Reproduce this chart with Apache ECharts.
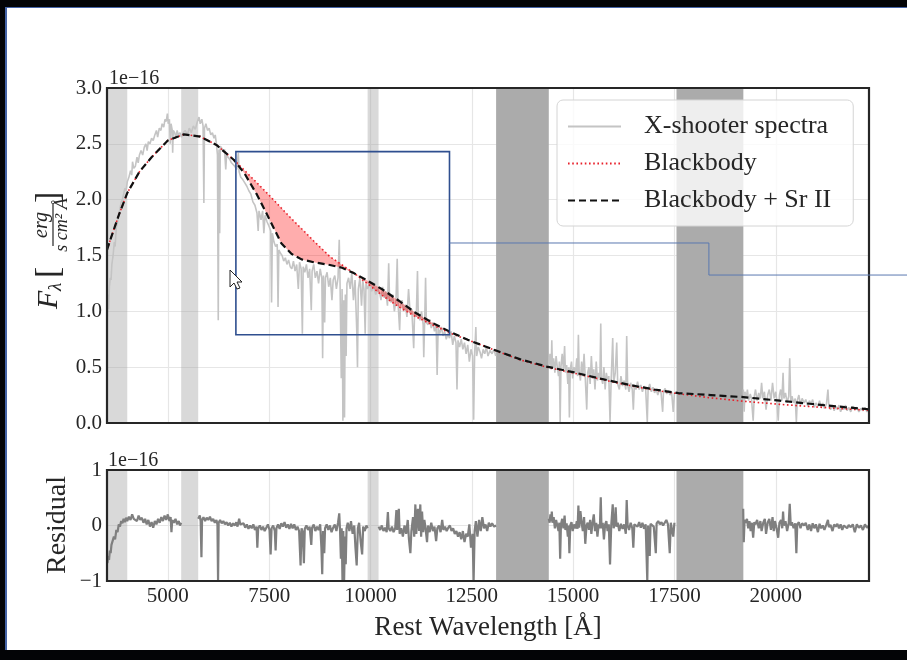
<!DOCTYPE html>
<html><head><meta charset="utf-8">
<script src="https://cdn.jsdelivr.net/npm/echarts@6/dist/echarts.min.js"></script>
<style>
html,body{margin:0;padding:0;background:#030406;width:907px;height:660px;overflow:hidden}
#bg{position:absolute;left:5px;top:7px;width:902px;height:643px;background:#fff;border-left:2px solid #4564a6;border-top:1px solid #4564a6;box-sizing:border-box}
#chart{position:absolute;left:0;top:0;width:907px;height:660px}
</style></head><body><div id="bg"></div><div id="chart"></div>
<script>
// ---------------- data ----------------
const XMIN = 3500, XMAX = 22300;
const xTicks = [5000, 7500, 10000, 12500, 15000, 17500, 20000];
const fluxTicks = [0, 0.5, 1.0, 1.5, 2.0, 2.5, 3.0];
const residualTicks = [-1, 0, 1];
const lightBands = [[3500, 4000], [5330, 5750], [9930, 10200]];
const darkBands = [[13100, 14400], [17550, 19200]];

const modelWave = [3500,3600,3800,4000,4300,4600,5000,5400,5800,6200,6633,6900,7200,7500,7800,8050,8300,8600,9000,9300,9600,9900,10300,10700,11100,11550,11970,12400,12800,13200,13700,14350,15000,15700,16400,17000,17600,18400,19200,20100,20900,21700,22300];
const blackbodySr = [1.55,1.66,1.87,2.06,2.25,2.38,2.53,2.585,2.565,2.49,2.355,2.23,2.045,1.83,1.61,1.515,1.465,1.44,1.415,1.39,1.34,1.28,1.195,1.095,0.99,0.893,0.815,0.745,0.69,0.635,0.57,0.505,0.455,0.395,0.34,0.30,0.268,0.25,0.232,0.20,0.17,0.142,0.123];
const blackbody = [1.55,1.66,1.87,2.06,2.25,2.38,2.53,2.585,2.565,2.49,2.355,2.26,2.15,2.04,1.925,1.83,1.74,1.63,1.49,1.415,1.34,1.255,1.14,1.04,0.955,0.875,0.805,0.745,0.69,0.632,0.565,0.50,0.448,0.39,0.335,0.295,0.262,0.225,0.195,0.167,0.146,0.126,0.115];
const FILL_FROM = 6633, FILL_TO = 11970;

const spectrumA = [[3510,0.95],[3525,1.15],[3540,1.02],[3560,1.22],[3580,1.3],[3600,1.28],[3620,1.42],[3650,1.5],[3680,1.62],[3700,1.58],[3730,1.75],[3760,1.8],[3790,1.86],[3820,1.92],[3850,1.98],[3880,2.0],[3910,2.05],[3940,2.1],[3970,2.08],[4000,2.16],[4040,2.2],[4080,2.26],[4110,2.22],[4130,2.34],[4160,2.28],[4200,2.3],[4240,2.38],[4270,2.33],[4300,2.4],[4340,2.44],[4380,2.4],[4420,2.47],[4460,2.5],[4490,2.44],[4520,2.52],[4560,2.5],[4600,2.55],[4640,2.53],[4680,2.58],[4720,2.62],[4750,2.56],[4790,2.64],[4830,2.62],[4860,2.68],[4900,2.65],[4930,2.72],[4960,2.7],[4990,2.77],[5010,2.68],[5040,2.72],[5060,2.5],[5080,2.68],[5110,2.62],[5120,2.42],[5135,2.62],[5170,2.6],[5200,2.55],[5230,2.62],[5260,2.58],[5300,2.6],[5340,2.56],[5380,2.6],[5430,2.62],[5480,2.58],[5530,2.64],[5580,2.6],[5630,2.66],[5680,2.63],[5730,2.7],[5770,2.74],[5800,2.68],[5840,2.72],[5870,2.66],[5890,1.97],[5905,2.64],[5940,2.68],[5980,2.62],[6020,2.64],[6060,2.58],[6100,2.6],[6140,2.55],[6170,2.58],[6200,2.5],[6225,2.4],[6245,0.92],[6262,2.45],[6280,1.7],[6295,2.48],[6330,2.46],[6370,2.43],[6400,2.45],[6430,2.27],[6450,2.4],[6490,2.38],[6530,2.36],[6570,2.33],[6610,2.32],[6650,2.3],[6700,2.27],[6740,2.42],[6760,2.25],[6800,2.2],[6850,2.18],[6900,2.15],[6950,2.12],[7000,2.08],[7050,2.05],[7100,1.98],[7150,1.95],[7200,1.88],[7230,1.72],[7250,1.9],[7300,1.82],[7340,1.9],[7370,1.7],[7400,1.86],[7450,1.8],[7500,1.76],[7540,1.72],[7560,1.08],[7580,1.7],[7620,1.62],[7660,1.58],[7700,1.6],[7720,1.04],[7740,1.55],[7780,1.52],[7820,1.5],[7860,1.45],[7900,1.48],[7940,1.42],[7980,1.46],[8020,1.4],[8060,1.38],[8100,1.45],[8140,1.36],[8180,1.42],[8220,1.2],[8250,1.44],[8290,1.38],[8320,0.8],[8340,1.4],[8380,1.35],[8420,1.42],[8460,1.3],[8500,1.38],[8540,1.01],[8560,1.36],[8600,1.42],[8640,1.3],[8680,1.36],[8720,1.25],[8760,1.38],[8800,1.3],[8820,0.58],[8840,1.32],[8870,0.9],[8890,1.3],[8930,1.35],[8970,1.22],[9010,1.3],[9050,1.1],[9080,1.28],[9120,1.32],[9160,1.2],[9200,1.3],[9230,1.64],[9250,1.25],[9280,0.4],[9300,1.2],[9320,0.02],[9340,1.1],[9360,0.05],[9380,1.15],[9400,0.6],[9420,1.25],[9460,1.3],[9500,1.2],[9540,1.35],[9580,1.1],[9620,1.28],[9660,0.85],[9680,0.5],[9700,1.2],[9740,1.3],[9780,1.05],[9810,1.28],[9840,1.2],[9870,0.8],[9890,1.25],[9930,1.2],[9980,1.25],[10030,1.18],[10080,1.22],[10130,1.15],[10180,1.2],[10230,1.16],[10260,1.1],[10300,1.22],[10340,1.12],[10380,1.18],[10420,1.05],[10450,1.43],[10470,1.12],[10510,1.08],[10550,1.15],[10590,1.0],[10630,1.1],[10660,1.47],[10680,1.08],[10720,0.83],[10740,1.05],[10780,1.1],[10820,1.0],[10860,1.06],[10900,0.95],[10940,1.2],[10980,0.98],[11020,1.02],[11067,0.67],[11090,1.0],[11130,0.95],[11160,1.36],[11180,0.97],[11220,0.92],[11260,1.0],[11300,0.88],[11315,0.59],[11340,0.95],[11360,1.3],[11380,0.9],[11420,0.88],[11460,0.93],[11500,0.85],[11540,0.9],[11580,0.82],[11620,0.88],[11645,0.43],[11670,0.85],[11710,0.8],[11750,0.86],[11790,0.78],[11830,0.82],[11870,0.75],[11910,0.8],[11950,0.76],[11990,0.82],[12030,0.7],[12070,0.78],[12110,0.72],[12135,0.3],[12160,0.74],[12200,0.68],[12240,0.75],[12280,0.66],[12320,0.72],[12360,0.62],[12400,0.7],[12440,0.55],[12480,0.66],[12520,0.6],[12546,0.03],[12570,0.62],[12600,0.86],[12620,0.6],[12660,0.68],[12700,0.64],[12740,0.58],[12780,0.66],[12820,0.62],[12860,0.68],[12900,0.6],[12950,0.65],[13000,0.62],[13050,0.66],[13090,0.6]];
const spectrumB = [[14400,0.5],[14430,0.62],[14460,0.48],[14474,0.74],[14490,0.5],[14520,0.58],[14550,0.45],[14580,0.6],[14610,0.5],[14640,0.42],[14660,0.55],[14680,0.01],[14700,0.5],[14730,0.62],[14760,0.48],[14790,0.69],[14810,0.45],[14840,0.52],[14870,0.35],[14890,0.5],[14908,0.05],[14930,0.48],[14960,0.55],[14990,0.4],[15020,0.5],[15060,0.45],[15090,0.58],[15110,0.42],[15130,0.79],[15150,0.45],[15180,0.38],[15210,0.55],[15240,0.42],[15270,0.62],[15300,0.4],[15336,0.12],[15360,0.45],[15390,0.5],[15420,0.35],[15450,0.6],[15480,0.4],[15510,0.48],[15540,0.3],[15570,0.55],[15600,0.38],[15630,0.45],[15660,0.4],[15682,0.89],[15700,0.4],[15730,0.35],[15760,0.5],[15790,0.3],[15820,0.45],[15850,0.38],[15880,0.42],[15911,0.01],[15940,0.4],[15977,0.76],[16000,0.36],[16040,0.45],[16076,0.72],[16100,0.35],[16140,0.3],[16180,0.42],[16220,0.33],[16260,0.38],[16300,0.3],[16322,0.78],[16345,0.34],[16380,0.28],[16420,0.36],[16460,0.3],[16486,0.12],[16510,0.34],[16550,0.3],[16590,0.37],[16630,0.3],[16670,0.34],[16710,0.28],[16750,0.33],[16790,0.3],[16830,0.01],[16850,0.3],[16890,0.35],[16930,0.28],[16970,0.32],[17010,0.27],[17050,0.3],[17090,0.25],[17130,0.3],[17170,0.27],[17209,0.1],[17230,0.28],[17270,0.31],[17310,0.26],[17350,0.29],[17390,0.25],[17430,0.28],[17470,0.1],[17500,0.27]];
const spectrumC = [[19200,0.3],[19220,0.1],[19240,0.28],[19270,0.22],[19300,0.3],[19330,0.2],[19370,0.26],[19400,0.22],[19442,0.02],[19470,0.24],[19500,0.3],[19540,0.2],[19580,0.27],[19620,0.22],[19650,0.36],[19680,0.22],[19720,0.28],[19760,0.12],[19800,0.25],[19840,0.3],[19880,0.2],[19920,0.36],[19960,0.22],[20000,0.28],[20030,0.18],[20060,0.02],[20090,0.25],[20120,0.3],[20150,0.2],[20180,0.45],[20200,0.22],[20240,0.27],[20280,0.18],[20320,0.24],[20344,0.58],[20370,0.2],[20400,0.24],[20440,0.18],[20480,0.22],[20508,0.01],[20530,0.2],[20570,0.25],[20610,0.16],[20650,0.22],[20700,0.18],[20740,0.21],[20790,0.15],[20830,0.2],[20870,0.17],[20910,0.21],[20950,0.14],[20990,0.18],[21040,0.15],[21080,0.2],[21120,0.14],[21160,0.18],[21200,0.13],[21250,0.17],[21287,0.3],[21310,0.15],[21350,0.12],[21400,0.16],[21440,0.11],[21480,0.15],[21520,0.12],[21560,0.16],[21600,0.1],[21640,0.14],[21680,0.12],[21720,0.16],[21760,0.11],[21800,0.14],[21850,0.1],[21900,0.15],[21950,0.12],[22000,0.14],[22050,0.1],[22100,0.13],[22150,0.11],[22200,0.14],[22250,0.1],[22300,0.12]];

const residualA = [[3510,-0.68],[3530,-0.55],[3550,-0.62],[3570,-0.45],[3590,-0.5],[3610,-0.35],[3640,-0.38],[3670,-0.2],[3700,-0.25],[3730,-0.08],[3760,-0.12],[3790,0.02],[3820,-0.02],[3850,0.08],[3880,0.04],[3910,0.12],[3940,0.06],[3970,0.14],[4000,0.08],[4040,0.16],[4080,0.1],[4120,0.2],[4160,0.12],[4200,0.15],[4240,0.08],[4280,0.18],[4320,0.1],[4360,0.14],[4400,0.05],[4440,0.12],[4480,0.02],[4520,0.1],[4560,-0.02],[4600,0.06],[4640,-0.04],[4680,0.08],[4720,0.02],[4760,0.12],[4800,0.05],[4840,0.15],[4880,0.08],[4920,0.18],[4960,0.1],[5000,0.2],[5040,0.08],[5070,0.15],[5090,-0.12],[5110,0.1],[5150,0.05],[5190,0.12],[5230,0.02],[5270,0.08],[5300,0.0],[5330,0.05]];
const residualB = [[5750,0.12],[5790,0.18],[5810,0.08],[5830,-0.57],[5845,0.1],[5880,0.15],[5920,0.08],[5960,0.14],[6000,0.1],[6040,0.16],[6080,0.08],[6120,0.12],[6160,0.05],[6200,0.1],[6225,0.02],[6240,-1.0],[6255,0.05],[6290,0.1],[6330,0.04],[6370,0.08],[6410,0.02],[6450,0.06],[6490,0.0],[6530,0.05],[6570,-0.02],[6610,0.04],[6650,0.0],[6690,0.06],[6720,-0.02],[6760,0.12],[6790,0.02],[6830,0.0],[6870,0.04],[6910,-0.04],[6950,0.02],[6990,-0.06],[7030,0.0],[7070,-0.05],[7110,0.02],[7150,-0.08],[7190,-0.02],[7209,-0.4],[7230,-0.05],[7270,0.0],[7310,-0.08],[7350,-0.02],[7390,-0.1],[7430,-0.04],[7470,0.02],[7510,-0.08],[7537,-0.52],[7560,-0.05],[7600,0.0],[7640,-0.1],[7660,-0.45],[7680,-0.05],[7720,0.02],[7760,-0.06],[7800,0.04],[7840,-0.02],[7880,0.06],[7920,-0.04],[7960,0.02],[8000,-0.06],[8040,0.03],[8080,-0.05],[8120,0.02],[8160,-0.08],[8200,-0.02],[8240,-0.1],[8276,-0.72],[8300,-0.05],[8330,-0.12],[8358,-0.68],[8380,-0.06],[8420,0.0],[8460,-0.08],[8500,-0.02],[8540,-0.35],[8560,-0.04],[8600,0.02],[8640,-0.1],[8680,-0.02],[8720,-0.08],[8760,0.02],[8790,-0.4],[8810,-0.88],[8830,-0.1],[8860,-0.5],[8880,-0.05],[8920,0.02],[8960,-0.08],[9000,0.0],[9040,-0.12],[9080,-0.04],[9120,0.02],[9160,-0.1],[9200,0.05],[9230,0.22],[9250,-0.1],[9270,-0.6],[9290,-0.05],[9310,-1.0],[9330,-0.1],[9350,-1.0],[9370,-0.2],[9390,-0.7],[9410,-0.05],[9440,0.05],[9480,-0.1],[9520,0.08],[9560,-0.15],[9600,0.0],[9630,-0.4],[9660,-0.72],[9690,-0.05],[9720,0.05],[9760,-0.3],[9795,-0.52],[9820,-0.02],[9860,-0.1],[9900,0.0],[9930,-0.05]];
const residualC = [[10200,-0.02],[10240,-0.08],[10280,0.0],[10320,-0.1],[10360,-0.04],[10400,-0.12],[10430,0.24],[10450,-0.05],[10490,-0.1],[10530,-0.02],[10570,-0.12],[10610,-0.05],[10640,0.28],[10660,-0.08],[10700,0.3],[10720,-0.15],[10760,-0.05],[10800,-0.2],[10840,0.0],[10880,-0.15],[10920,0.1],[10950,-0.25],[10985,-0.5],[11010,-0.1],[11050,0.15],[11080,-0.2],[11108,0.38],[11130,-0.15],[11170,0.3],[11200,-0.1],[11230,0.38],[11250,-0.2],[11273,0.25],[11300,-0.12],[11330,0.1],[11360,-0.05],[11396,-0.3],[11420,0.0],[11460,-0.12],[11500,0.05],[11540,-0.1],[11580,-0.02],[11620,-0.28],[11650,-0.05],[11690,0.0],[11730,-0.12],[11770,0.1],[11800,-0.08],[11840,-0.02],[11880,-0.1],[11920,-0.04],[11960,0.0],[12000,-0.1],[12040,-0.05],[12080,-0.15],[12120,-0.1],[12160,-0.2],[12200,-0.12],[12240,-0.25],[12280,-0.1],[12320,-0.3],[12360,-0.15],[12400,-0.2],[12440,0.02],[12480,-0.4],[12520,-0.15],[12545,-1.0],[12570,-0.1],[12600,0.08],[12640,-0.2],[12680,0.1],[12720,-0.1],[12760,0.15],[12800,-0.05],[12840,0.02],[12880,-0.1],[12920,0.05],[12960,-0.02],[13000,0.04],[13050,-0.02],[13100,0.0]];
const residualD = [[14400,0.12],[14420,0.05],[14440,0.2],[14460,0.08],[14474,0.25],[14490,0.05],[14520,0.15],[14550,-0.05],[14580,0.1],[14610,0.0],[14640,-0.1],[14660,0.05],[14680,-0.6],[14700,0.02],[14730,0.12],[14760,-0.05],[14790,0.18],[14810,-0.08],[14840,0.04],[14870,-0.2],[14890,0.0],[14908,-0.5],[14930,0.0],[14960,0.06],[14990,-0.1],[15020,0.02],[15060,-0.05],[15090,0.08],[15110,-0.06],[15130,0.36],[15150,-0.04],[15180,0.26],[15210,0.05],[15240,-0.1],[15270,0.15],[15300,-0.33],[15330,0.0],[15360,0.05],[15390,-0.08],[15420,0.1],[15450,-0.15],[15480,0.05],[15510,0.2],[15540,-0.1],[15570,0.05],[15600,-0.2],[15630,0.02],[15660,-0.05],[15682,0.51],[15700,-0.05],[15730,0.05],[15760,-0.25],[15790,0.02],[15820,0.08],[15850,-0.1],[15880,0.02],[15911,-0.7],[15940,0.0],[15977,0.38],[16000,-0.05],[16030,0.04],[16050,0.33],[16070,-0.02],[16100,0.05],[16140,-0.1],[16180,0.03],[16220,-0.06],[16260,0.02],[16300,-0.15],[16322,0.46],[16345,0.0],[16380,-0.08],[16420,0.05],[16460,-0.05],[16485,-0.4],[16510,0.02],[16550,0.05],[16590,-0.02],[16630,0.06],[16670,-0.04],[16710,0.05],[16750,-0.06],[16790,0.02],[16830,-1.0],[16850,0.0],[16890,-0.55],[16910,0.03],[16950,0.06],[16990,-0.02],[17040,-0.5],[17060,0.04],[17100,0.08],[17140,0.02],[17180,0.06],[17220,0.0],[17260,0.05],[17300,0.1],[17340,0.02],[17384,-0.5],[17410,0.05],[17440,0.08],[17470,-0.2],[17500,0.05]];
const residualE = [[19196,0.3],[19210,-0.3],[19230,0.1],[19260,0.05],[19290,0.12],[19320,-0.05],[19350,0.08],[19380,-0.1],[19410,0.05],[19442,-0.22],[19470,0.06],[19500,0.02],[19540,0.1],[19580,-0.05],[19620,0.08],[19650,-0.1],[19690,0.05],[19730,0.12],[19760,-0.15],[19800,0.05],[19840,0.12],[19880,-0.08],[19920,0.15],[19950,-0.1],[19980,0.08],[20020,-0.05],[20060,-0.22],[20090,0.05],[20130,0.1],[20160,-0.05],[20180,0.25],[20200,0.0],[20240,0.08],[20280,-0.1],[20320,0.05],[20344,0.39],[20370,0.0],[20400,0.06],[20440,-0.05],[20480,0.04],[20508,-0.5],[20530,0.02],[20570,0.06],[20610,-0.05],[20650,0.04],[20700,0.0],[20740,0.05],[20790,-0.08],[20830,0.02],[20870,-0.1],[20910,0.04],[20950,-0.05],[20990,0.02],[21040,-0.12],[21080,0.03],[21120,-0.05],[21160,0.0],[21200,-0.08],[21250,0.02],[21287,0.1],[21310,-0.03],[21350,0.01],[21400,-0.1],[21440,0.02],[21480,-0.02],[21520,0.03],[21560,-0.05],[21600,0.02],[21640,-0.08],[21680,0.0],[21720,0.03],[21760,-0.05],[21800,0.01],[21850,-0.03],[21900,0.02],[21950,-0.12],[22000,0.02],[22050,-0.04],[22100,0.0],[22150,-0.08],[22200,0.02],[22250,-0.04],[22300,0.0]];

const spectrumSegs = [spectrumA, spectrumB, spectrumC];
const residualSegs = [residualA, residualB, residualC, residualD, residualE];

// overlay annotation (zoom box) in data units of the upper panel
const zoomBox = [6680, 11950, 0.79, 2.43];
const connector = [1.612, 18350, 1.325];

// ---------------- layout / style ----------------
const SERIF = '"Liberation Serif","DejaVu Serif",serif';
const INK = '#262626';
const G1 = {left: 107, top: 88, width: 762, height: 335};
const G2 = {left: 107, top: 470, width: 762, height: 111};

const bandData = lightBands.map(b => [b[0], b[1], 0, 0]).concat(darkBands.map(b => [b[0], b[1], 1, 0]));
function bandRender(params, api) {
  const cs = params.coordSys;
  const a = api.coord([api.value(0), 0])[0];
  const b = api.coord([api.value(1), 0])[0];
  return {type: 'rect', shape: {x: a, y: cs.y, width: b - a, height: cs.height},
    style: {fill: api.value(2) === 1 ? '#ababab' : 'rgba(160,160,160,0.4)'}};
}
function fillRender(params, api) {
  const idx = [];
  modelWave.forEach((w, i) => { if (w >= FILL_FROM && w <= FILL_TO) idx.push(i); });
  const pts = [];
  idx.forEach(i => pts.push(api.coord([modelWave[i], blackbody[i]])));
  idx.slice().reverse().forEach(i => pts.push(api.coord([modelWave[i], blackbodySr[i]])));
  return {type: 'polygon', shape: {points: pts}, style: {fill: 'rgba(255,0,0,0.32)'}};
}

const axisLabelBase = {fontFamily: SERIF, fontSize: 21, color: INK};
const series = [];
series.push({type: 'custom', xAxisIndex: 0, yAxisIndex: 0, renderItem: bandRender, data: bandData, encode: {x: [0, 1], y: 3}, z: 1, silent: true, clip: true});
series.push({type: 'custom', xAxisIndex: 1, yAxisIndex: 1, renderItem: bandRender, data: bandData, encode: {x: [0, 1], y: 3}, z: 1, silent: true, clip: true});
spectrumSegs.forEach(seg => series.push({type: 'line', name: 'X-shooter spectra', xAxisIndex: 0, yAxisIndex: 0, data: seg,
  symbol: 'none', color: '#c4c4c4', lineStyle: {color: '#c4c4c4', width: 1.6}, z: 2, silent: true}));
series.push({type: 'custom', xAxisIndex: 0, yAxisIndex: 0, renderItem: fillRender, data: [[FILL_FROM, 0]], encode: {x: 0, y: 1}, z: 3, silent: true});
series.push({type: 'line', name: 'Blackbody', xAxisIndex: 0, yAxisIndex: 0, data: modelWave.map((w, i) => [w, blackbody[i]]),
  symbol: 'none', color: '#e8212b', lineStyle: {color: '#e8212b', width: 1.6, type: [1.6, 2.6]}, z: 4, silent: true});
series.push({type: 'line', name: 'Blackbody + Sr II', xAxisIndex: 0, yAxisIndex: 0, data: modelWave.map((w, i) => [w, blackbodySr[i]]),
  symbol: 'none', color: '#111', lineStyle: {color: '#111', width: 2.2, type: [7, 4]}, z: 5, silent: true});
residualSegs.forEach(seg => series.push({type: 'line', name: 'residual', xAxisIndex: 1, yAxisIndex: 1, data: seg,
  symbol: 'none', color: '#7f7f7f', lineStyle: {color: '#7f7f7f', width: 2.2}, z: 2, silent: true}));

const legendNames = ['X-shooter spectra', 'Blackbody', 'Blackbody + Sr II'];
const option = {
  animation: false,
  backgroundColor: 'transparent',
  grid: [
    Object.assign({show: false}, G1),
    Object.assign({show: false}, G2)
  ],
  xAxis: [
    {type: 'value', gridIndex: 0, min: XMIN, max: XMAX, axisLine: {show: false},
      axisTick: {show: false, customValues: xTicks}, axisLabel: {show: false, customValues: xTicks},
      splitLine: {show: true, lineStyle: {color: '#e6e6e6', width: 1.2}}},
    {type: 'value', gridIndex: 1, min: XMIN, max: XMAX, axisLine: {show: false},
      axisTick: {show: false, customValues: xTicks},
      axisLabel: Object.assign({customValues: xTicks, margin: 5, fontSize: 20, formatter: v => String(v)}, axisLabelBase),
      splitLine: {show: true, lineStyle: {color: '#e6e6e6', width: 1.2}}}
  ],
  yAxis: [
    {type: 'value', gridIndex: 0, min: fluxTicks[0], max: fluxTicks[fluxTicks.length - 1], interval: 0.5,
      axisLine: {show: false}, axisTick: {show: false},
      axisLabel: Object.assign({margin: 5, formatter: v => v.toFixed(1)}, axisLabelBase),
      splitLine: {show: true, lineStyle: {color: '#e6e6e6', width: 1.2}}},
    {type: 'value', gridIndex: 1, min: residualTicks[0], max: residualTicks[2], interval: 1,
      axisLine: {show: false}, axisTick: {show: false},
      axisLabel: Object.assign({margin: 5, formatter: v => v < 0 ? '\u2212' + Math.abs(v) : String(v)}, axisLabelBase),
      splitLine: {show: true, lineStyle: {color: '#e6e6e6', width: 1.2}}}
  ],
  legend: {
    data: legendNames.map(n => ({name: n, itemStyle: {opacity: 0}})),
    orient: 'vertical', left: 557, top: 100,
    backgroundColor: 'rgba(255,255,255,0.8)', borderColor: '#d4d4d4', borderWidth: 1, borderRadius: 6,
    padding: [12, 22, 11, 10], itemWidth: 53, itemHeight: 14, itemGap: 8,
    textStyle: {fontFamily: SERIF, fontSize: 26, color: INK, padding: [0, 0, 0, 18], lineHeight: 29},
    selectedMode: false
  },
  series: series
};

const chart = echarts.init(document.getElementById('chart'), null, {renderer: 'canvas'});
chart.setOption(option);

// overlays computed through the chart's own scales
const b0 = chart.convertToPixel({gridIndex: 0}, [zoomBox[0], zoomBox[3]]);
const b1 = chart.convertToPixel({gridIndex: 0}, [zoomBox[1], zoomBox[2]]);
const c0 = chart.convertToPixel({gridIndex: 0}, [zoomBox[1], connector[0]]);
const c1 = chart.convertToPixel({gridIndex: 0}, [connector[1], connector[0]]);
const c2 = chart.convertToPixel({gridIndex: 0}, [connector[1], connector[2]]);

chart.setOption({
  graphic: [
    {type: 'rect', shape: {x: G1.left, y: G1.top, width: G1.width, height: G1.height}, style: {fill: null, stroke: '#262626', lineWidth: 2.2}, z: 50, silent: true},
    {type: 'rect', shape: {x: G2.left, y: G2.top, width: G2.width, height: G2.height}, style: {fill: null, stroke: '#262626', lineWidth: 2.2}, z: 50, silent: true},
    {type: 'text', x: 109, y: 89, style: {text: '1e\u221216', font: '20px ' + SERIF, fill: INK, verticalAlign: 'bottom'}, z: 50},
    {type: 'text', x: 108, y: 471, style: {text: '1e\u221216', font: '20px ' + SERIF, fill: INK, verticalAlign: 'bottom'}, z: 50},
    {type: 'text', x: 488, y: 628, style: {text: 'Rest Wavelength [\u00C5]', font: '27px ' + SERIF, fill: INK, align: 'center', verticalAlign: 'middle'}, z: 50},
    {type: 'text', x: 58, y: 525, rotation: Math.PI / 2, style: {text: 'Residual', font: '28px ' + SERIF, fill: INK, align: 'center', verticalAlign: 'middle'}, z: 50},
    {type: 'group', x: 48, y: 252, rotation: Math.PI / 2, z: 50, children: [
      {type: 'text', x: -57, y: 1, style: {text: 'F', font: 'italic 30px ' + SERIF, fill: INK, align: 'left', verticalAlign: 'middle'}},
      {type: 'text', x: -39, y: 8, style: {text: '\u03BB', font: 'italic 19px ' + SERIF, fill: INK, align: 'left', verticalAlign: 'middle'}},
      {type: 'text', x: -26, y: 1, style: {text: '[', font: '34px ' + SERIF, fill: INK, align: 'left', verticalAlign: 'middle'}},
      {type: 'text', x: 27, y: 4, style: {text: 'erg', font: 'italic 20px ' + SERIF, fill: INK, align: 'center', verticalAlign: 'bottom'}},
      {type: 'line', shape: {x1: 6, y1: 5, x2: 48, y2: 5}, style: {stroke: INK, lineWidth: 1.2}},
      {type: 'text', x: 27, y: 5, style: {text: 's cm\u00B2 \u00C5', font: 'italic 18px ' + SERIF, fill: INK, align: 'center', verticalAlign: 'top'}},
      {type: 'text', x: 49, y: 1, style: {text: ']', font: '34px ' + SERIF, fill: INK, align: 'left', verticalAlign: 'middle'}}
    ]},
    {type: 'rect', shape: {x: b0[0], y: b0[1], width: b1[0] - b0[0], height: b1[1] - b0[1]}, style: {fill: null, stroke: '#2f4f8f', lineWidth: 1.6}, z: 60, silent: true},
    {type: 'polyline', shape: {points: [c0, c1, c2, [907, c2[1]]]}, style: {fill: null, stroke: '#5a78b0', lineWidth: 1}, z: 60, silent: true},
    {type: 'polygon', x: 230, y: 270, shape: {points: [[0,0],[0,17],[4,13],[7,19],[10,18],[7,12],[12,12]]}, style: {fill: '#fff', stroke: '#222', lineWidth: 1}, z: 70, silent: true}
  ]
});
</script></body></html>
